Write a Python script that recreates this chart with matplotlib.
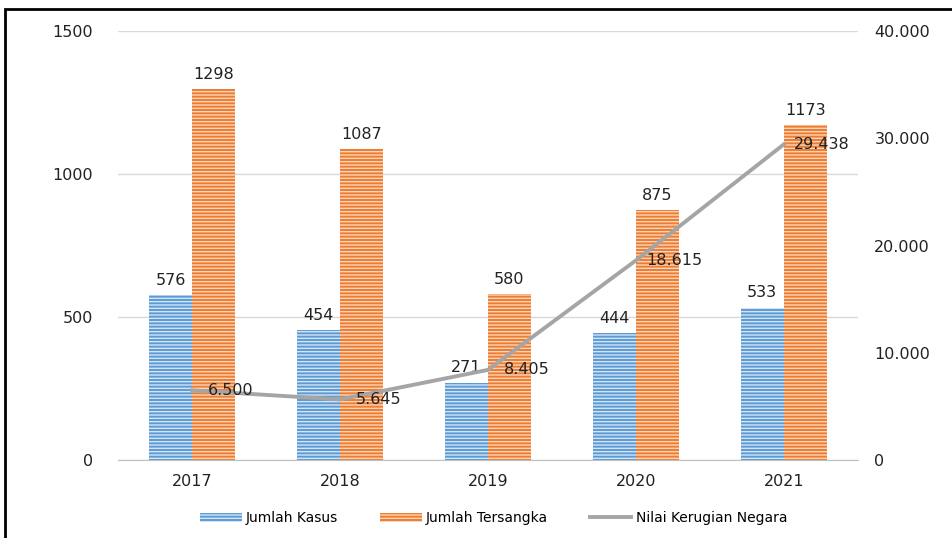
import numpy as np
import matplotlib.pyplot as plt
from matplotlib.patches import Rectangle

# data
years = ['2017', '2018', '2019', '2020', '2021']
kasus = [576, 454, 271, 444, 533]
tersangka = [1298, 1087, 580, 875, 1173]
kerugian = [6500, 5645, 8405, 18615, 29438]
kerugian_labels = ['6.500', '5.645', '8.405', '18.615', '29.438']
right_ticks = [0, 10000, 20000, 30000, 40000]
right_ticklabels = ['0', '10.000', '20.000', '30.000', '40.000']

plt.rcParams['font.family'] = ['DejaVu Sans']
plt.rcParams['hatch.linewidth'] = 1.0

fig = plt.figure(figsize=(9.53, 5.38), dpi=100)
ax = fig.add_axes([0.124, 0.145, 0.776, 0.797])
ax2 = ax.twinx()

x = np.arange(len(years))
w = 0.29
blue = '#5b9bd5'
orange = '#ed7d31'

b1 = ax.bar(x - w / 2, kasus, w, color=blue, edgecolor='#d4e4f5', linewidth=0,
            hatch='-----', label='Jumlah Kasus', zorder=2)
b2 = ax.bar(x + w / 2, tersangka, w, color=orange, edgecolor='#fbd5bb', linewidth=0,
            hatch='-----', label='Jumlah Tersangka', zorder=2)

for xi, v in zip(x, kasus):
    ax.text(xi - w / 2, v + 25, str(v), ha='center', va='bottom', fontsize=11.5, color='#222222')
for xi, v in zip(x, tersangka):
    ax.text(xi + w / 2, v + 25, str(v), ha='center', va='bottom', fontsize=11.5, color='#222222')

ax.set_xlim(-0.5, 4.5)
ax.set_ylim(0, 1500)
ax.set_yticks([0, 500, 1000, 1500])
ax.set_xticks(x)
ax.set_xticklabels(years)
ax.grid(axis='y', color='#d9d9d9', linewidth=1, zorder=0)
ax.set_axisbelow(True)
for s in ['top', 'right', 'left']:
    ax.spines[s].set_visible(False)
ax.spines['bottom'].set_color('#bfbfbf')
ax.tick_params(axis='y', length=0, pad=18, labelsize=11.5, colors='#222222')
ax.tick_params(axis='x', length=0, pad=10, labelsize=11.5, colors='#222222')

line, = ax2.plot(x, kerugian, color='#a5a5a5', linewidth=2.8, label='Nilai Kerugian Negara', zorder=3)
for xi, v, lab in zip(x, kerugian, kerugian_labels):
    ax2.text(xi + 0.26, v, lab, ha='center', va='center', fontsize=11.5, color='#222222')
ax2.set_ylim(0, 40000)
ax2.set_yticks(right_ticks)
ax2.set_yticklabels(right_ticklabels)
ax2.tick_params(axis='y', length=0, pad=12, labelsize=11.5, colors='#222222')
for s in ax2.spines.values():
    s.set_visible(False)

fig.legend(handles=[b1, b2, line], loc='center', bbox_to_anchor=(0.518, 0.037), ncol=3,
           frameon=False, fontsize=10, handlelength=3.0, handleheight=0.6, columnspacing=3.0,
           handletextpad=0.3)

# outer frame
fig.add_artist(Rectangle((0.005, -0.05), 1.1, 1.033, transform=fig.transFigure,
                         fill=False, edgecolor='black', linewidth=2))

fig.savefig('out.png', dpi=100)
